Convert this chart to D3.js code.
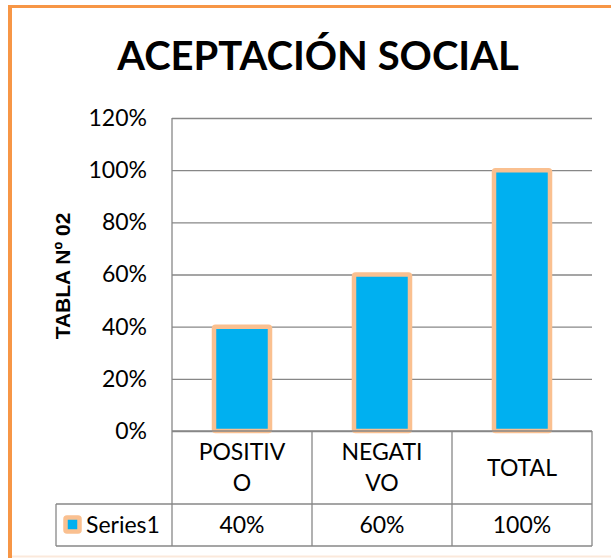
<html>
<head>
<meta charset="utf-8">
<title>Aceptación social</title>
<style>
    body { margin: 0; background: #fff; }
    svg { display: block; }
    .tick text { font-family: Lato, "Open Sans", sans-serif; }
</style>
</head>
<body>
<script src="https://d3js.org/d3.v7.min.js"></script>
<script>
    // chart data
    const categories = ["POSITIVO", "NEGATIVO", "TOTAL"];
    const categoryLines = [["POSITIV", "O"], ["NEGATI", "VO"], ["TOTAL"]];
    const seriesName = "Series1";
    const series1 = [0.40, 0.60, 1.00];
    const yTicks = [0, 0.2, 0.4, 0.6, 0.8, 1.0, 1.2];

    const width = 611, height = 558;
    const plotLeft = 172, plotRight = 592, plotTop = 118, plotBottom = 431;
    const catRow = 504, serRow = 546, tableLeft = 56;

    const blue = "#00B0F0", peach = "#FAC090", orange = "#F79646", grid = "#878787";
    const font = "Lato, 'Open Sans', sans-serif";

    const svg = d3.select("body").append("svg")
        .attr("width", width).attr("height", height);

    // outer orange frame (left and top only, as in the picture)
    svg.append("line").attr("x1", 10).attr("x2", width).attr("y1", 6.5).attr("y2", 6.5)
        .attr("stroke", orange).attr("stroke-width", 3);
    svg.append("line").attr("x1", 10).attr("x2", 10).attr("y1", 5).attr("y2", height)
        .attr("stroke", orange).attr("stroke-width", 4);
    svg.append("line").attr("x1", 12).attr("x2", width).attr("y1", 556.5).attr("y2", 556.5)
        .attr("stroke", "#FBE9DC").attr("stroke-width", 2);

    // title
    svg.append("text")
        .attr("x", 318).attr("y", 70)
        .attr("text-anchor", "middle")
        .style("font-family", font).style("font-weight", "bold").style("font-size", "40px")
        .text("ACEPTACIÓN SOCIAL");

    // scales
    const x = d3.scaleBand().domain(categories).range([plotLeft, plotRight]);
    const y = d3.scaleLinear().domain([0, 1.2]).range([plotBottom, plotTop]);

    // gridlines
    svg.append("g")
        .attr("transform", "translate(" + plotLeft + ",0)")
        .call(d3.axisLeft(y).tickValues(yTicks).tickSize(-(plotRight - plotLeft)).tickFormat(""))
        .call(g => g.select(".domain").remove())
        .call(g => g.selectAll("line").attr("stroke", grid).attr("stroke-width", 1.3));

    // y tick labels
    svg.append("g")
        .attr("transform", "translate(147,0)")
        .call(d3.axisLeft(y).tickValues(yTicks).tickSize(0).tickPadding(0).tickFormat(d3.format(".0%")))
        .call(g => g.select(".domain").remove())
        .call(g => g.selectAll("text").attr("fill", "#000").style("font-size", "23px"));

    // y axis title
    svg.append("text")
        .attr("transform", "translate(70,276) rotate(-90)")
        .attr("text-anchor", "middle")
        .style("font-family", "'Liberation Sans', Arial, sans-serif")
        .style("font-weight", "bold").style("font-size", "21px")
        .text("TABLA Nº 02");

    // bars
    const barW = x.bandwidth() * 0.4;
    svg.append("g").selectAll("rect")
        .data(series1)
        .join("rect")
        .attr("x", (d, i) => x(categories[i]) + (x.bandwidth() - barW) / 2)
        .attr("y", d => y(d))
        .attr("width", barW)
        .attr("height", d => y(0) - y(d))
        .attr("rx", 1.5)
        .attr("fill", blue)
        .attr("stroke", peach)
        .attr("stroke-width", 4.5);

    // data table lines
    const t = svg.append("g").attr("stroke", grid).attr("stroke-width", 1.3).attr("fill", "none");
    t.append("line").attr("x1", plotLeft).attr("x2", plotLeft).attr("y1", plotTop).attr("y2", serRow);
    t.append("line").attr("x1", plotLeft).attr("x2", plotRight).attr("y1", plotBottom).attr("y2", plotBottom);
    t.append("line").attr("x1", tableLeft).attr("x2", plotRight).attr("y1", catRow).attr("y2", catRow);
    t.append("line").attr("x1", tableLeft).attr("x2", plotRight).attr("y1", serRow).attr("y2", serRow);
    t.append("line").attr("x1", tableLeft).attr("x2", tableLeft).attr("y1", catRow).attr("y2", serRow);
    categories.forEach(c => {
        const xr = x(c) + x.bandwidth();
        t.append("line").attr("x1", xr).attr("x2", xr).attr("y1", plotBottom).attr("y2", serRow);
    });

    // category labels (wrapped like the original)
    const catMid = (plotBottom + catRow) / 2;
    categories.forEach((c, i) => {
        const lines = categoryLines[i];
        const lh = 31;
        const txt = svg.append("text")
            .attr("text-anchor", "middle")
            .style("font-family", font).style("font-size", "23px");
        lines.forEach((ln, j) => {
            txt.append("tspan")
                .attr("x", x(c) + x.bandwidth() / 2)
                .attr("y", catMid + (j - (lines.length - 1) / 2) * lh)
                .attr("dy", "0.35em")
                .text(ln);
        });
    });

    // series row
    const serMid = (catRow + serRow) / 2;
    svg.append("rect")
        .attr("x", 65.5).attr("y", serMid - 7.5).attr("width", 14).attr("height", 14)
        .attr("fill", blue).attr("stroke", peach).attr("stroke-width", 4.5).attr("rx", 1.5);
    svg.append("text")
        .attr("x", 86).attr("y", serMid).attr("dy", "0.35em")
        .style("font-family", font).style("font-size", "23px")
        .text(seriesName);
    svg.append("g").selectAll("text")
        .data(series1)
        .join("text")
        .attr("x", (d, i) => x(categories[i]) + x.bandwidth() / 2)
        .attr("y", serMid).attr("dy", "0.35em")
        .attr("text-anchor", "middle")
        .style("font-family", font).style("font-size", "23px")
        .text(d => d3.format(".0%")(d));
</script>
</body>
</html>
